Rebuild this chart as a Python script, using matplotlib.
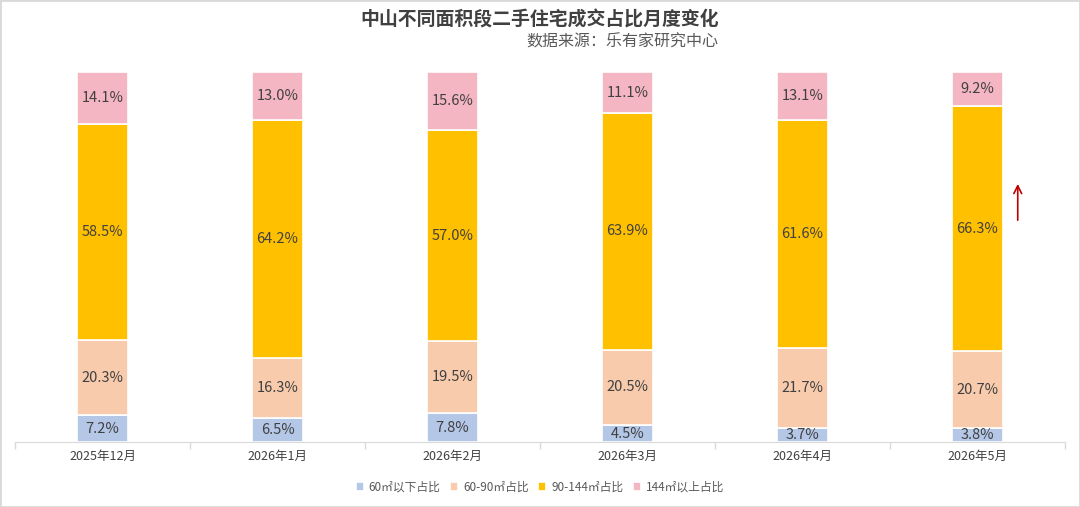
import matplotlib
matplotlib.use("Agg")
import matplotlib.pyplot as plt
import numpy as np
from matplotlib.patches import Rectangle

plt.rcParams['font.family'] = ['Noto Sans CJK SC', 'DejaVu Sans']

months = ['2025年12月', '2026年1月', '2026年2月', '2026年3月', '2026年4月', '2026年5月']
series_names = ['60㎡以下占比', '60-90㎡占比', '90-144㎡占比', '144㎡以上占比']
below60 = [7.2, 6.5, 7.8, 4.5, 3.7, 3.8]
s60_90 = [20.3, 16.3, 19.5, 20.5, 21.7, 20.7]
s90_144 = [58.5, 64.2, 57.0, 63.9, 61.6, 66.3]
above144 = [14.1, 13.0, 15.6, 11.1, 13.1, 9.2]
colors = ['#B4C7E7', '#F8CBAD', '#FFC000', '#F4B6C2']

title = '中山不同面积段二手住宅成交占比月度变化'
subtitle = '数据来源：乐有家研究中心'

fig = plt.figure(figsize=(10.8, 5.07), dpi=100)
ax = fig.add_axes([15/1080, 65/507, 1050/1080, 370/507])

x = np.arange(len(months))
data = [below60, s60_90, s90_144, above144]
bottom = np.zeros(len(months))
width = 0.286
for vals, c, name in zip(data, colors, series_names):
    vals = np.array(vals)
    ax.bar(x, vals, width, bottom=bottom, color=c, edgecolor='white', linewidth=1.2, label=name)
    for xi, b, v in zip(x, bottom, vals):
        ax.text(xi, b + v / 2, f'{v:.1f}%', ha='center', va='center', fontsize=10.5, color='#404040')
    bottom += vals

ax.set_xlim(-0.5, len(months) - 0.5)
ax.set_ylim(0, 100)
ax.set_yticks([])
ax.set_xticks(x)
ax.set_xticklabels(months, fontsize=9, color='#404040')
ax.tick_params(axis='x', which='major', length=0, pad=6)
ax.set_xticks(np.arange(-0.5, len(months), 1), minor=True)
ax.tick_params(axis='x', which='minor', length=5, color='#D9D9D9', width=1)
for s in ['top', 'right', 'left']:
    ax.spines[s].set_visible(False)
ax.spines['bottom'].set_color('#D9D9D9')

# red arrow
ax.annotate('', xy=(5 + 0.23, 70.5), xytext=(5 + 0.23, 59.2),
            arrowprops=dict(arrowstyle='->', color='#C00000', lw=1.2, mutation_scale=14))

fig.text(0.5, 1 - 20/507, title, ha='center', va='center', fontsize=13.6, fontweight='bold', color='#404040')
fig.text(718/1080, 1 - 42/507, subtitle, ha='right', va='center', fontsize=11.5, color='#595959')

handles, labels = ax.get_legend_handles_labels()
fig.legend(handles, labels, loc='center', bbox_to_anchor=(0.5, 1 - 487/507), ncol=4, frameon=False,
           fontsize=8.5, handlelength=0.7, handleheight=0.7, handletextpad=0.4, columnspacing=0.8,
           labelcolor='#595959')

fig.patches.append(Rectangle((0, 0), 1, 1, transform=fig.transFigure, fill=False, edgecolor='#D9D9D9', linewidth=2))

fig.savefig('out.png', dpi=100)
